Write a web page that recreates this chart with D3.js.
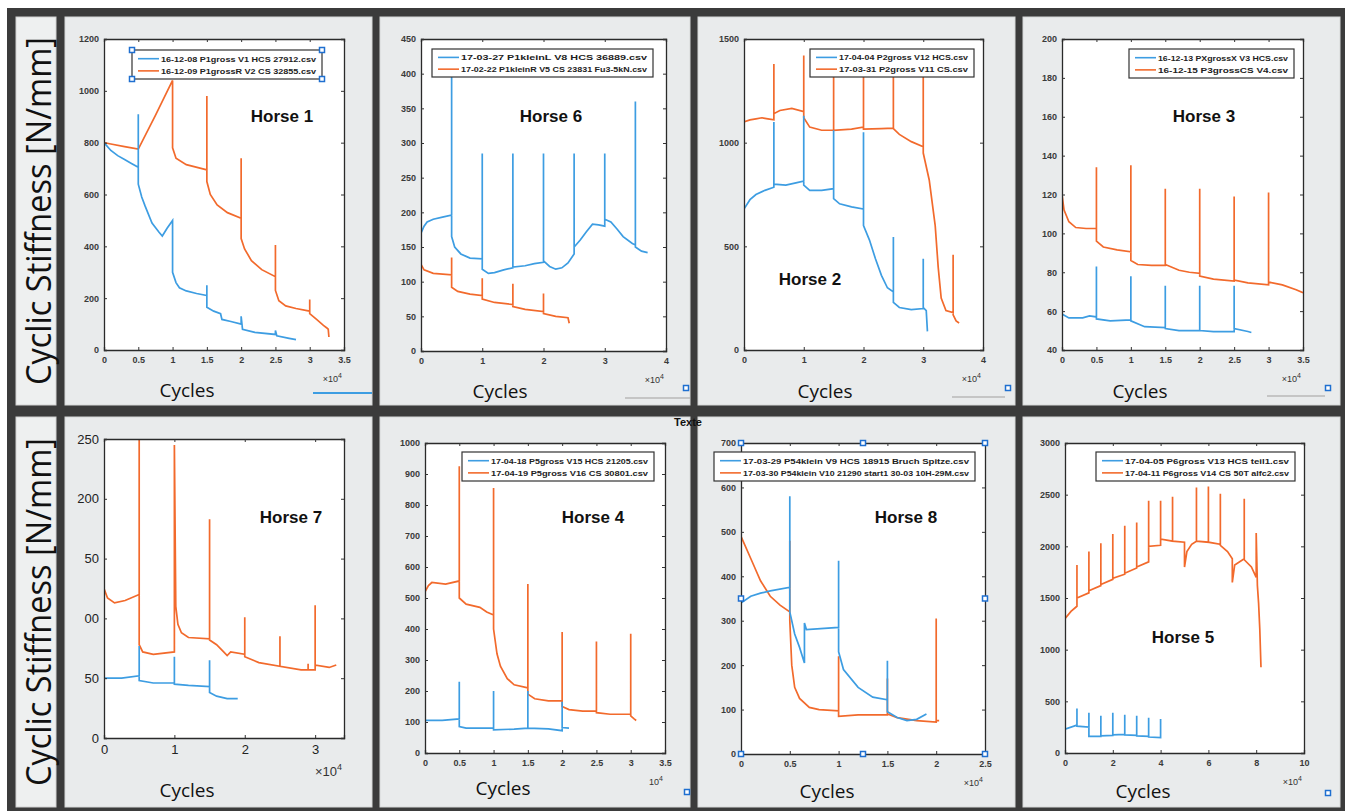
<!DOCTYPE html>
<html>
<head>
<meta charset="utf-8">
<script src="https://cdn.jsdelivr.net/npm/d3@7"></script>
<style>
  body { margin: 0; background: #fff; }
  svg text { font-family: "Liberation Sans", Arial, sans-serif; }
</style>
</head>
<body>
<svg id="fig" width="1351" height="812"></svg>
<script>
// ---- data: [cycles (x1e4), stiffness N/mm] ----
var h1Blue = [[0,1050],[0,800],[0.1,770],[0.2,750],[0.3,735],[0.4,720],[0.5,705],[0.5,910],[0.5,640],[0.55,590],[0.6,555],[0.7,490],[0.8,455],[0.85,440],[0.92,470],[1.0,500],[1.0,300],[1.05,260],[1.1,240],[1.2,228],[1.35,218],[1.5,210],[1.5,250],[1.5,165],[1.6,150],[1.7,140],[1.72,118],[1.85,110],[2.0,100],[2.0,130],[2.02,80],[2.2,68],[2.5,60],[2.5,75],[2.52,55],[2.7,45],[2.8,40]];
var h1Orange = [[0,1000],[0,800],[0.1,795],[0.3,785],[0.5,775],[0.75,905],[1.0,1040],[1.0,780],[1.05,740],[1.2,715],[1.5,695],[1.5,980],[1.5,650],[1.55,600],[1.65,560],[1.8,530],[2.0,508],[2.0,740],[2.0,430],[2.05,390],[2.15,345],[2.3,310],[2.5,283],[2.5,405],[2.5,230],[2.55,190],[2.65,170],[2.8,160],[3.0,150],[3.0,195],[3.0,140],[3.1,118],[3.2,95],[3.25,85],[3.27,80],[3.28,50]];

var h6Blue = [[0,330],[0,170],[0.05,180],[0.1,186],[0.2,190],[0.35,193],[0.5,196],[0.5,420],[0.5,165],[0.55,150],[0.65,140],[0.8,134],[1.0,133],[1.0,285],[1.0,118],[1.1,112],[1.2,113],[1.35,117],[1.5,120],[1.5,285],[1.5,121],[1.7,123],[1.85,126],[2.0,128],[2.0,285],[2.0,130],[2.1,122],[2.2,118],[2.3,120],[2.4,127],[2.5,140],[2.5,285],[2.5,150],[2.6,160],[2.7,172],[2.8,183],[2.9,182],[3.0,180],[3.0,285],[3.0,190],[3.1,186],[3.2,176],[3.3,165],[3.45,155],[3.5,153],[3.5,360],[3.5,150],[3.6,144],[3.7,142]];
var h6Orange = [[0,200],[0,125],[0.05,117],[0.2,112],[0.5,110],[0.5,135],[0.5,92],[0.6,86],[0.8,82],[1.0,80],[1.0,105],[1.0,75],[1.2,70],[1.5,67],[1.5,97],[1.5,64],[1.7,60],[2.0,57],[2.0,83],[2.0,54],[2.2,50],[2.4,48],[2.42,40]];

var h2Blue = [[0,810],[0,680],[0.1,725],[0.2,750],[0.35,770],[0.5,785],[0.5,1100],[0.5,800],[0.7,795],[0.85,805],[1.0,815],[1.0,1130],[1.0,795],[1.1,770],[1.3,770],[1.5,778],[1.5,1060],[1.5,730],[1.6,705],[1.8,690],[2.0,680],[2.0,1050],[2.0,600],[2.1,530],[2.2,440],[2.3,360],[2.4,300],[2.5,280],[2.5,545],[2.5,230],[2.6,205],[2.8,195],[3.0,200],[3.0,440],[3.0,205],[3.05,190],[3.07,90]];
var h2Orange = [[0,1050],[0,1340],[0,1100],[0.1,1110],[0.2,1115],[0.3,1120],[0.4,1115],[0.5,1110],[0.5,1380],[0.5,1140],[0.6,1155],[0.8,1165],[1.0,1150],[1.0,1420],[1.0,1120],[1.1,1075],[1.3,1060],[1.5,1060],[1.5,1330],[1.5,1060],[1.8,1065],[2.0,1075],[2.0,1330],[2.0,1065],[2.3,1068],[2.5,1070],[2.5,1330],[2.5,1068],[2.6,1040],[2.8,1005],[3.0,980],[3.0,1330],[3.0,950],[3.1,820],[3.2,600],[3.25,400],[3.3,250],[3.38,190],[3.5,180],[3.5,460],[3.5,170],[3.55,140],[3.6,130]];

var h3Blue = [[0,71],[0,58.5],[0.1,56.5],[0.3,56.5],[0.4,57.5],[0.5,57],[0.5,83],[0.5,56],[0.7,55],[1.0,55.5],[1.0,78],[1.0,55],[1.2,52],[1.5,51.5],[1.5,73],[1.5,51],[1.7,50],[2.0,50],[2.0,73],[2.0,50],[2.2,49.5],[2.5,49.5],[2.5,73],[2.5,51],[2.7,49.5],[2.75,49]];
var h3Orange = [[0,182],[0,120],[0.03,112],[0.1,106],[0.2,103],[0.35,102.5],[0.5,102.5],[0.5,134],[0.5,96],[0.6,93],[0.8,91.5],[1.0,90.5],[1.0,135],[1.0,86],[1.1,84],[1.3,83.5],[1.5,83.5],[1.5,123],[1.5,84],[1.7,81],[1.85,80],[2.0,79.5],[2.0,123],[2.0,78],[2.2,76.5],[2.5,75.5],[2.5,119],[2.5,76],[2.7,74.5],[3.0,73.5],[3.0,121],[3.0,75],[3.2,73.5],[3.4,71],[3.5,69.5]];

var h7Blue = [[0,70],[0,50],[0.25,50],[0.5,52],[0.5,77],[0.5,48],[0.7,46],[1.0,46],[1.0,68],[1.0,45],[1.2,44],[1.5,43],[1.5,65],[1.5,38],[1.6,35],[1.75,33],[1.9,33]];
var h7Orange = [[0,250],[0,125],[0.05,117],[0.15,113],[0.3,115],[0.5,120],[0.5,255],[0.5,78],[0.55,72],[0.7,70],[1.0,72],[1.0,245],[1.02,110],[1.05,95],[1.1,88],[1.2,84],[1.5,83],[1.5,183],[1.5,82],[1.6,78],[1.7,72],[1.75,69],[1.8,72],[2.0,70],[2.0,101],[2.0,68],[2.2,63],[2.5,60],[2.5,85],[2.5,60],[2.8,57],[2.9,57],[2.9,62],[2.9,57],[3.0,57],[3.0,111],[3.0,61],[3.2,59],[3.3,61]];

var h4Blue = [[0,140],[0,105],[0.25,105],[0.5,110],[0.5,230],[0.5,85],[0.6,80],[1.0,80],[1.0,200],[1.0,75],[1.3,77],[1.5,80],[1.5,200],[1.5,80],[1.8,78],[2.0,72],[2.0,165],[2.0,82],[2.1,80]];
var h4Orange = [[0,740],[0,520],[0.05,540],[0.1,550],[0.3,545],[0.5,555],[0.5,925],[0.5,500],[0.6,480],[0.8,470],[0.9,455],[1.0,445],[1.0,855],[1.0,400],[1.05,320],[1.1,280],[1.2,240],[1.3,220],[1.5,210],[1.5,545],[1.5,190],[1.6,175],[1.8,168],[2.0,168],[2.0,390],[2.0,150],[2.1,140],[2.3,135],[2.5,135],[2.5,360],[2.5,130],[2.7,125],[3.0,125],[3.0,385],[3.0,120],[3.05,110],[3.08,105]];

var h8Blue = [[0,400],[0,340],[0.1,355],[0.2,362],[0.3,367],[0.5,375],[0.5,580],[0.5,320],[0.55,270],[0.6,240],[0.65,205],[0.65,295],[0.67,280],[1.0,285],[1.0,435],[1.0,230],[1.05,190],[1.2,150],[1.35,128],[1.5,122],[1.5,210],[1.5,95],[1.6,82],[1.7,75],[1.8,78],[1.9,90]];
var h8Orange = [[0,620],[0,490],[0.1,440],[0.2,390],[0.3,355],[0.4,335],[0.5,320],[0.5,480],[0.5,300],[0.52,200],[0.55,150],[0.6,125],[0.7,105],[0.8,100],[1.0,97],[1.0,220],[1.0,85],[1.2,88],[1.5,88],[1.5,170],[1.5,90],[1.6,82],[1.8,75],[2.0,72],[2.0,305],[2.0,75],[2.03,75]];

var h5Blue = [[0,230],[0.5,270],[0.5,430],[0.5,260],[1.0,250],[1.0,390],[1.0,160],[1.5,160],[1.5,360],[1.5,165],[2.0,170],[2.0,390],[2.0,175],[2.5,180],[2.5,370],[2.5,175],[3.0,170],[3.0,360],[3.0,165],[3.5,160],[3.5,340],[3.5,155],[4.0,150],[4.0,330]];
var h5Orange = [[0,1600],[0,1300],[0.25,1370],[0.5,1420],[0.5,1820],[0.5,1500],[1.0,1550],[1.0,1950],[1.0,1570],[1.5,1620],[1.5,2030],[1.5,1630],[2.0,1680],[2.0,2120],[2.0,1690],[2.5,1730],[2.5,2200],[2.5,1740],[3.0,1790],[3.0,2230],[3.0,1800],[3.5,1850],[3.5,2440],[3.5,2000],[4.0,2010],[4.0,2440],[4.0,2070],[4.5,2050],[4.5,2480],[4.5,2050],[5.0,2040],[5.0,1800],[5.1,1950],[5.3,2020],[5.5,2050],[5.5,2570],[5.5,2050],[6.0,2040],[6.0,2580],[6.0,2040],[6.5,2020],[6.5,2510],[6.5,2010],[6.8,1950],[7.0,1880],[7.0,1650],[7.1,1820],[7.5,1880],[7.5,2460],[7.5,1870],[7.8,1800],[8.0,1700],[8.0,2130],[8.05,1620],[8.1,1450],[8.15,1200],[8.2,830]];

// tick values
var ticksX05 = [0,0.5,1,1.5,2,2.5,3,3.5];
var ticksX4 = [0,1,2,3,4];
var ticksX25 = [0,0.5,1,1.5,2,2.5];
var ticksX10 = [0,2,4,6,8,10];
var ticksX7 = [0,1,2,3];
var ticksY1 = [0,200,400,600,800,1000,1200];
var ticksY6 = [0,50,100,150,200,250,300,350,400,450];
var ticksY2 = [0,500,1000,1500];
var ticksY3 = [40,60,80,100,120,140,160,180,200];
var ticksY7 = [0,50,100,150,200,250];
var labelsY7 = ["0","50","00","50","200","250"]; // labels are cut off in the original
var ticksY4 = [0,100,200,300,400,500,600,700,800,900,1000];
var ticksY8 = [0,100,200,300,400,500,600,700];
var ticksY5 = [0,500,1000,1500,2000,2500,3000];

var legend1 = ["16-12-08 P1gross V1 HCS 27912.csv", "16-12-09 P1grossR V2 CS 32855.csv"];
var legend6 = ["17-03-27 P1kleinL V8 HCS 36889.csv", "17-02-22 P1kleinR V5 CS 23831 Fu3-5kN.csv"];
var legend2 = ["17-04-04 P2gross V12 HCS.csv", "17-03-31 P2gross V11 CS.csv"];
var legend3 = ["16-12-13 PXgrossX V3 HCS.csv", "16-12-15 P3grossCS V4.csv"];
var legend4 = ["17-04-18 P5gross V15 HCS 21205.csv", "17-04-19 P5gross V16 CS 30801.csv"];
var legend8 = ["17-03-29 P54klein V9 HCS 18915 Bruch Spitze.csv", "17-03-30 P54klein V10 21290 start1 30-03 10H-29M.csv"];
var legend5 = ["17-04-05 P6gross V13 HCS teil1.csv", "17-04-11 P6gross V14 CS 50T alfc2.csv"];

var blue = "#3d9de2", orange = "#f26a2c";

// ---- layout ----
var panels = [
  {title: "Horse 1", box: [65,17,372,405], plot: [104,39,344,350], xd: [0,3.5], yd: [0,1200], xt: ticksX05, yt: ticksY1,
   tp: [282,122], leg: [132,50,322,79], legText: legend1, handles: true, b: h1Blue, o: h1Orange, cx: 187, cy: 397, exp: "×10"},
  {title: "Horse 6", box: [380,17,690,405], plot: [421,39,666,351], xd: [0,4], yd: [0,450], xt: ticksX4, yt: ticksY6,
   tp: [551,122], leg: [432,49,653,77], legText: legend6, b: h6Blue, o: h6Orange, cx: 500, cy: 398, exp: "×10"},
  {title: "Horse 2", box: [698,17,1015,405], plot: [744,39,983,350], xd: [0,4], yd: [0,1500], xt: ticksX4, yt: ticksY2,
   tp: [810,285], leg: [810,49,974,77], legText: legend2, b: h2Blue, o: h2Orange, cx: 825, cy: 398, exp: "×10"},
  {title: "Horse 3", box: [1023,17,1340,405], plot: [1062,39,1303,350], xd: [0,3.5], yd: [40,200], xt: ticksX05, yt: ticksY3,
   tp: [1204,122], leg: [1129,49,1294,78], legText: legend3, b: h3Blue, o: h3Orange, cx: 1140, cy: 398, exp: "×10"},
  {title: "Horse 7", box: [65,417,372,807], plot: [104,439,344,738], xd: [0,3.41], yd: [0,250], xt: ticksX7, yt: ticksY7, yl: labelsY7,
   big: true, tp: [291,523], b: h7Blue, o: h7Orange, cx: 187, cy: 797, exp: "×10"},
  {title: "Horse 4", box: [380,417,690,807], plot: [425,443,665,753], xd: [0,3.5], yd: [0,1000], xt: ticksX05, yt: ticksY4,
   tp: [593,523], leg: [462,452,654,481], legText: legend4, b: h4Blue, o: h4Orange, cx: 503, cy: 795, exp: "10"},
  {title: "Horse 8", box: [698,417,1015,807], plot: [741,443,985,754], xd: [0,2.5], yd: [0,700], xt: ticksX25, yt: ticksY8,
   tp: [906,523], leg: [714,452,975,481], legText: legend8, axHandles: true, b: h8Blue, o: h8Orange, cx: 827, cy: 798, exp: "×10"},
  {title: "Horse 5", box: [1023,417,1340,807], plot: [1065,443,1304,753], xd: [0,10], yd: [0,3000], xt: ticksX10, yt: ticksY5,
   tp: [1183,643], leg: [1096,452,1295,481], legText: legend5, b: h5Blue, o: h5Orange, cx: 1143, cy: 798, exp: "×10"}
];

var svg = d3.select("#fig");

// dark frame around everything
svg.append("rect").attr("x", 7).attr("y", 8).attr("width", 1338).attr("height", 803).attr("fill", "#3b3b3b");

// y label strips
[[17,405],[417,807]].forEach(function(r) {
  svg.append("rect").attr("x", 16).attr("y", r[0]).attr("width", 40).attr("height", r[1]-r[0])
    .attr("fill", "#eef0f0").attr("stroke", "#d2d2d2");
  svg.append("text")
    .attr("transform", "translate(51," + ((r[0]+r[1])/2) + ") rotate(-90)")
    .attr("text-anchor", "middle")
    .attr("textLength", 348).attr("lengthAdjust", "spacingAndGlyphs")
    .style("font-family", "'Open Sans', sans-serif")
    .style("font-weight", 400)
    .style("font-size", "34px")
    .attr("fill", "#111")
    .text("Cyclic Stiffness [N/mm]");
});

panels.forEach(function(p, i) {
  var g = svg.append("g");
  g.append("rect").attr("x", p.box[0]).attr("y", p.box[1]).attr("width", p.box[2]-p.box[0]).attr("height", p.box[3]-p.box[1])
    .attr("fill", "#e9ebec").attr("stroke", "#d6d8d8");

  var x = d3.scaleLinear().domain(p.xd).range([p.plot[0], p.plot[2]]);
  var y = d3.scaleLinear().domain(p.yd).range([p.plot[3], p.plot[1]]);
  var w = p.plot[2]-p.plot[0], h = p.plot[3]-p.plot[1];

  g.append("rect").attr("x", p.plot[0]).attr("y", p.plot[1]).attr("width", w).attr("height", h).attr("fill", "#fff");

  var clipId = "clip" + i;
  svg.append("clipPath").attr("id", clipId).append("rect")
    .attr("x", p.plot[0]).attr("y", p.plot[1]).attr("width", w).attr("height", h);

  var line = d3.line().x(function(d) { return x(d[0]); }).y(function(d) { return y(d[1]); });
  var lines = g.append("g").attr("clip-path", "url(#" + clipId + ")");
  lines.append("path").datum(p.o).attr("d", line).attr("fill", "none").attr("stroke", orange).attr("stroke-width", 1.7);
  lines.append("path").datum(p.b).attr("d", line).attr("fill", "none").attr("stroke", blue).attr("stroke-width", 1.7);

  // axes, ticks inside on all four sides (matlab box style)
  var fs = p.big ? "13px" : "9px";
  var axB = d3.axisBottom(x).tickValues(p.xt).tickSize(-3).tickPadding(7).tickFormat(d3.format("~g"));
  var axT = d3.axisTop(x).tickValues(p.xt).tickSize(-3).tickFormat("");
  var axL = d3.axisLeft(y).tickValues(p.yt).tickSize(-3).tickPadding(5)
    .tickFormat(function(d, k) { return p.yl ? p.yl[k] : d; });
  var axR = d3.axisRight(y).tickValues(p.yt).tickSize(-3).tickFormat("");
  [[axB, "translate(0," + p.plot[3] + ")"], [axT, "translate(0," + p.plot[1] + ")"],
   [axL, "translate(" + p.plot[0] + ",0)"], [axR, "translate(" + p.plot[2] + ",0)"]].forEach(function(a) {
    var ag = g.append("g").attr("transform", a[1]).call(a[0]);
    ag.select(".domain").attr("stroke", "#2a2a2a").attr("stroke-width", 1.3);
    ag.selectAll(".tick line").attr("stroke", "#333");
    ag.selectAll("text").style("font-size", fs).style("font-weight", p.big ? "normal" : "bold").attr("fill", p.big ? "#222" : "#3a3a3a");
  });

  // exponent label
  var ex = g.append("text").attr("x", p.plot[2] - 2).attr("y", p.plot[3] + (p.big ? 38 : 32))
    .attr("text-anchor", "end").style("font-size", p.big ? "13px" : "9px").attr("fill", "#333").text(p.exp);
  ex.append("tspan").attr("dy", p.big ? -6 : -4).style("font-size", p.big ? "9px" : "7px").text("4");

  // title
  g.append("text").attr("x", p.tp[0]).attr("y", p.tp[1]).attr("text-anchor", "middle")
    .style("font-size", "17px").style("font-weight", "bold").attr("fill", "#111").text(p.title);

  // x label
  g.append("text").attr("x", p.cx).attr("y", p.cy).attr("text-anchor", "middle")
    .style("font-family", "'Open Sans', sans-serif").style("font-size", "19px").attr("fill", "#111").text("Cycles");

  // legend
  if (p.leg) {
    var L = p.leg, lh = (L[3]-L[1]);
    g.append("rect").attr("x", L[0]).attr("y", L[1]).attr("width", L[2]-L[0]).attr("height", lh)
      .attr("fill", "#fff").attr("stroke", "#333").attr("stroke-width", 1.2);
    [blue, orange].forEach(function(c, k) {
      var yy = L[1] + lh * (k === 0 ? 0.3 : 0.72);
      g.append("line").attr("x1", L[0]+6).attr("x2", L[0]+27).attr("y1", yy).attr("y2", yy)
        .attr("stroke", c).attr("stroke-width", 1.6);
      g.append("text").attr("x", L[0]+29).attr("y", yy + 3)
        .attr("textLength", L[2]-L[0]-35).attr("lengthAdjust", "spacingAndGlyphs")
        .style("font-size", "8px").style("font-weight", "bold").attr("fill", "#222").text(p.legText[k]);
    });
    if (p.handles) {
      [[L[0],L[1]],[L[2],L[1]],[L[0],L[3]],[L[2],L[3]]].forEach(function(q) {
        g.append("rect").attr("x", q[0]-2.5).attr("y", q[1]-2.5).attr("width", 5).attr("height", 5)
          .attr("fill", "#fff").attr("stroke", "#1f6fd0").attr("stroke-width", 1.5);
      });
    }
  }
  if (p.axHandles) {
    var P = p.plot, mx = (P[0]+P[2])/2, my = (P[1]+P[3])/2;
    [[P[0],P[1]],[mx,P[1]],[P[2],P[1]],[P[0],my],[P[2],my],[P[0],P[3]],[mx,P[3]],[P[2],P[3]]].forEach(function(q) {
      g.append("rect").attr("x", q[0]-2.5).attr("y", q[1]-2.5).attr("width", 5).attr("height", 5)
        .attr("fill", "#fff").attr("stroke", "#1f6fd0").attr("stroke-width", 1.5);
    });
  }
});

// leftover selection artifacts from the original screenshot
svg.append("line").attr("x1", 313).attr("x2", 372).attr("y1", 393).attr("y2", 393).attr("stroke", blue).attr("stroke-width", 2);
[[625,690,398],[952,1005,397],[1267,1325,396]].forEach(function(s) {
  svg.append("line").attr("x1", s[0]).attr("x2", s[1]).attr("y1", s[2]).attr("y2", s[2]).attr("stroke", "#b8b8b8").attr("stroke-width", 1.5);
});
[[686,388],[1008,388],[1328,388],[687,792],[1328,793]].forEach(function(q) {
  svg.append("rect").attr("x", q[0]-2.5).attr("y", q[1]-2.5).attr("width", 5).attr("height", 5)
    .attr("fill", "#fff").attr("stroke", "#1f6fd0").attr("stroke-width", 1.5);
});

svg.append("text").attr("x", 688).attr("y", 426).attr("text-anchor", "middle")
  .style("font-size", "11px").style("font-weight", "bold").attr("fill", "#111").text("Texte");
</script>
</body>
</html>
